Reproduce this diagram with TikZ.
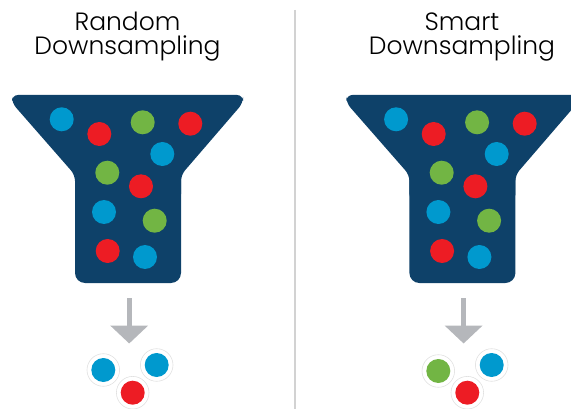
\documentclass[tikz,border=0pt]{standalone}
\usepackage{fontspec}
\setmainfont{Poppins}[UprightFont={* Light}]
\usetikzlibrary{arrows.meta}
\definecolor{navy}{RGB}{14,65,105}
\definecolor{bblue}{RGB}{0,153,206}
\definecolor{bred}{RGB}{237,28,36}
\definecolor{bgreen}{RGB}{114,181,68}
\definecolor{agray}{RGB}{181,183,187}
\definecolor{divgray}{RGB}{210,210,210}
\definecolor{ringgray}{RGB}{225,225,225}
\begin{document}
\begin{tikzpicture}[x=1pt,y=-1pt,
  ball/.style={circle,minimum size=24pt,inner sep=0pt,draw=none},
  blueball/.style={ball,fill=bblue},
  redball/.style={ball,fill=bred},
  greenball/.style={ball,fill=bgreen},
  ring/.style={draw=ringgray,line width=0.6pt},
  title/.style={font=\fontsize{25}{25}\selectfont,anchor=base,inner sep=0pt},
  flow/.style={draw=agray,line width=5pt,-{Triangle[width=37pt,length=18pt]}},
  divider/.style={draw=divgray,line width=1.6pt}
]
\useasboundingbox (0,0) rectangle (571,409);
% divider
\coordinate (d1) at (295,10);
\coordinate (d2) at (295,409);
\draw[divider] (d1) -- (d2);

\foreach \ox/\nm/\la/\lb in {0/L/Random/Downsampling, 334.4/R/Smart/Downsampling}{
  \begin{scope}[xshift=\ox]
    % titles
    \node[title] (\nm t1) at (127.5,30.7) {\la};
    \node[title] (\nm t2) at (127.5,55) {\lb};
    % funnel
    \fill[navy,rounded corners=6pt] (75,200) -- (75,175) -- (12,103) -- (12,95) -- (243,95) -- (243,103) -- (181,175) -- (181,200) -- cycle;
    \fill[navy,rounded corners=10pt] (75,160) rectangle (181,283);
    % balls
    \node[blueball]  (\nm b1) at (61.7,119.3) {};
    \node[redball]   (\nm b2) at (99.3,134) {};
    \node[greenball] (\nm b3) at (142.7,122.3) {};
    \node[redball]   (\nm b4) at (190.3,123.7) {};
    \node[blueball]  (\nm b5) at (162.3,154) {};
    \node[greenball] (\nm b6) at (107.3,172.7) {};
    \node[redball]   (\nm b7) at (141,186.3) {};
    \node[blueball]  (\nm b8) at (104,212) {};
    \node[greenball] (\nm b9) at (154.7,220.7) {};
    \node[redball]   (\nm b10) at (107.7,251) {};
    \node[blueball]  (\nm b11) at (145,257) {};
    % arrow
    \coordinate (\nm a1) at (129.2,298);
    \coordinate (\nm a2) at (129.2,343.5);
    \draw[flow] (\nm a1) -- (\nm a2);
  \end{scope}
}
% outputs left
\node[blueball] (Lo1) at (103.3,370) {};
\node[blueball] (Lo2) at (156.7,365) {};
\node[redball]  (Lo3) at (132.7,392.7) {};
% outputs right
\node[greenball] (Ro1) at (438.3,371) {};
\node[blueball]  (Ro2) at (491.7,365) {};
\node[redball]   (Ro3) at (467.3,392.7) {};
\foreach \n in {Lo1,Lo2,Lo3,Ro1,Ro2,Ro3}{
  \draw[ring] (\n.center) circle (16.3pt);
}
\end{tikzpicture}
\end{document}
